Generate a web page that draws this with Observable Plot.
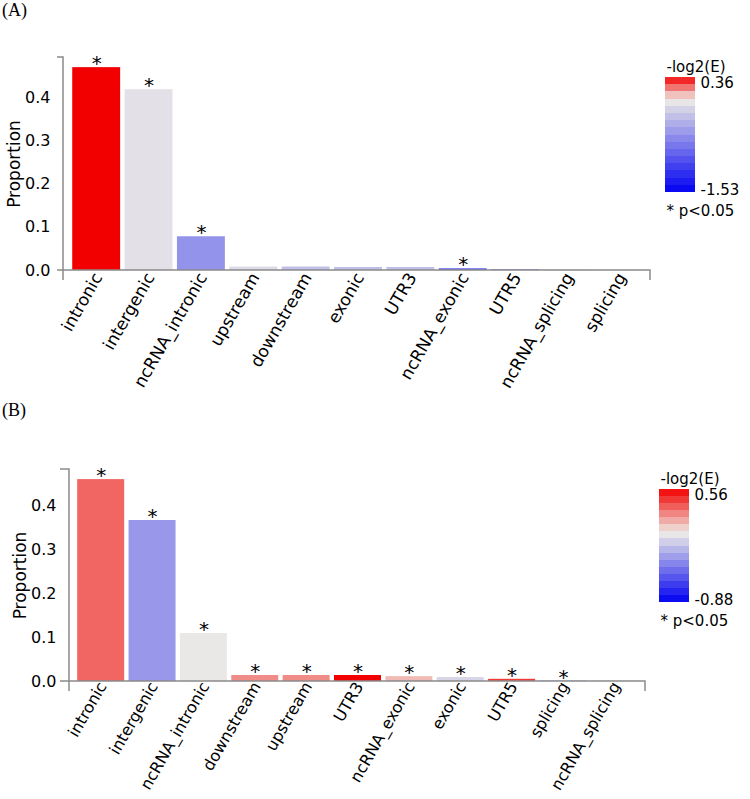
<!DOCTYPE html>
<html><head><meta charset="utf-8">
<script src="https://cdn.jsdelivr.net/npm/d3@7"></script>
<script src="https://cdn.jsdelivr.net/npm/@observablehq/plot@0.6"></script>
<style>
body{margin:0;background:#fff;}
#root{position:relative;width:750px;height:799px;overflow:hidden;font-family:"DejaVu Sans",sans-serif;background:#fff;}
.abs{position:absolute;}
.tag{position:absolute;font-family:"Liberation Serif",serif;font-size:18px;line-height:18px;color:#000;}
</style></head><body><div id="root"></div>
<script>
// ---------- Panel A data ----------
const categoriesA = ["intronic","intergenic","ncRNA_intronic","upstream","downstream","exonic","UTR3","ncRNA_exonic","UTR5","ncRNA_splicing","splicing"];
const proportionA = [0.469, 0.418, 0.078, 0.008, 0.008, 0.007, 0.007, 0.004, 0.001, 0.0003, 0.0002];
const negLog2EA   = [0.36, -0.08, -0.58, -0.12, -0.30, -0.30, -0.30, -0.95, -1.53, -1.20, -1.00];
const significantA = [true, true, true, false, false, false, false, true, false, false, false];

// ---------- Panel B data ----------
const categoriesB = ["intronic","intergenic","ncRNA_intronic","downstream","upstream","UTR3","ncRNA_exonic","exonic","UTR5","splicing","ncRNA_splicing"];
const proportionB = [0.459, 0.366, 0.109, 0.0136, 0.0136, 0.0136, 0.011, 0.009, 0.005, 0.0004, 0.0002];
const negLog2EB   = [0.32, -0.32, -0.02, 0.23, 0.23, 0.56, 0.12, -0.09, 0.42, -0.88, -0.50];
const significantB = [true, true, true, true, true, true, true, true, true, true, false];

const yTicks = [0, 0.1, 0.2, 0.3, 0.4];
const legendTitle = "-log2(E)";
const footnote = "* p<0.05";
const yLabel = "Proportion";

const AXIS = "#8a8a8a";
const BLUE = "#0000f2", MID = "#efede6", RED = "#f20000";
const interp = d3.piecewise(d3.interpolateRgb, [BLUE, MID, RED]);

function colorScale(vals) {
  return {type: "diverging", pivot: 0, symmetric: false, domain: [d3.min(vals), d3.max(vals)], interpolate: interp};
}

function spines(yMax, leftExt) {
  return (index, scales, values, dims) => {
    const g = d3.create("svg:g").attr("stroke", AXIS).attr("stroke-width", 1.5).attr("fill", "none");
    const x0 = dims.marginLeft, x1 = dims.width - dims.marginRight;
    const yTop = scales.y(yMax), yBase = scales.y(0);
    g.append("path").attr("d", `M${x0 - leftExt},${yTop}H${x0}V${yBase + 10}`);
    g.append("path").attr("d", `M${x0 - leftExt},${yBase}H${x1}V${yBase + 10}`);
    return g.node();
  };
}

function panel(cfg) {
  const data = cfg.categories.map((c, i) => ({category: c, proportion: cfg.proportion[i], e: cfg.neg[i], sig: cfg.sig[i]}));
  const yMax = d3.max(cfg.proportion) * 1.05;
  const chart = Plot.plot({
    width: 750, height: cfg.height,
    marginLeft: cfg.marginLeft, marginRight: cfg.marginRight, marginTop: cfg.marginTop, marginBottom: cfg.marginBottom,
    style: {fontFamily: "DejaVu Sans", fontSize: "16px", color: "#000", background: "transparent", overflow: "visible"},
    x: {domain: cfg.categories, paddingInner: 0.085, paddingOuter: 0.0425, round: false, insetLeft: cfg.insetLeft, insetRight: cfg.insetRight},
    y: {domain: [0, yMax]},
    color: colorScale(cfg.neg),
    marks: [
      Plot.barY(data, {x: "category", y: "proportion", fill: "e"}),
      Plot.text(data.filter(d => d.sig), {x: "category", y: "proportion", text: () => "*", lineAnchor: "middle", dy: -4, fontSize: 20}),
      spines(yMax, cfg.leftExt),
      Plot.axisX({tickSize: 0, tickRotate: -60, tickPadding: cfg.tickPad, dx: 1.5, textAnchor: "end", lineAnchor: "middle", fontSize: cfg.xFont, label: null}),
      Plot.axisY({ticks: yTicks, tickFormat: ".1f", tickSize: 0, tickPadding: 13, fontSize: 16, label: null}),
      Plot.axisY({ticks: [], tickSize: 0, fontSize: 17, label: yLabel, labelAnchor: "center", labelOffset: 56, labelArrow: "none"})
    ]
  });
  chart.classList.add("abs");
  chart.style.left = "0px";
  chart.style.top = cfg.top + "px";
  return chart;
}

function legend(cfg) {
  const lo = d3.min(cfg.neg), hi = d3.max(cfg.neg);
  const n = 16;
  const steps = d3.range(n).map(i => {
    const a = lo + (hi - lo) * i / n, b = lo + (hi - lo) * (i + 1) / n;
    return {a, b, m: (a + b) / 2};
  });
  const mt = 24, mb = 30;
  const chart = Plot.plot({
    width: 100, height: mt + cfg.barH + mb,
    marginLeft: 0, marginRight: 70, marginTop: mt, marginBottom: mb,
    style: {fontFamily: "DejaVu Sans", fontSize: "15px", color: "#000", background: "transparent", overflow: "visible"},
    x: {axis: null}, y: {domain: [lo, hi], axis: null},
    color: colorScale(cfg.neg),
    marks: [
      Plot.barY(steps, {y1: "a", y2: "b", fill: "m", shapeRendering: "crispEdges"}),
      Plot.text([legendTitle], {frameAnchor: "top-left", text: d => d, textAnchor: "start", lineAnchor: "middle", dy: -10, dx: 1, fontSize: 15}),
      Plot.text([hi], {y: d => d, frameAnchor: "right", text: d => String(d), textAnchor: "start", lineAnchor: "middle", dx: 5, dy: 6, fontSize: 15}),
      Plot.text([lo], {y: d => d, frameAnchor: "right", text: d => String(d), textAnchor: "start", lineAnchor: "middle", dx: 5, dy: -2, fontSize: 15}),
      Plot.text([footnote], {frameAnchor: "bottom-left", text: d => d, textAnchor: "start", lineAnchor: "middle", dy: 18.5, dx: 1, fontSize: 15})
    ]
  });
  chart.classList.add("abs");
  chart.style.left = cfg.left + "px";
  chart.style.top = (cfg.top - mt) + "px";
  return chart;
}

const root = document.getElementById("root");

root.appendChild(panel({categories: categoriesA, proportion: proportionA, neg: negLog2EA, sig: significantA,
  top: 0, height: 390, marginTop: 57, marginBottom: 120, marginLeft: 63, marginRight: 100, insetLeft: 7, insetRight: 4, leftExt: 6, xFont: 17, tickPad: 4}));
root.appendChild(panel({categories: categoriesB, proportion: proportionB, neg: negLog2EB, sig: significantB,
  top: 400, height: 399, marginTop: 69, marginBottom: 118, marginLeft: 69, marginRight: 105, insetLeft: 6, insetRight: 5, leftExt: 9, xFont: 16, tickPad: 2}));

root.appendChild(legend({neg: negLog2EA, left: 665, top: 77, barH: 115}));
root.appendChild(legend({neg: negLog2EB, left: 659, top: 489, barH: 113}));

const tA = document.createElement("div"); tA.className = "tag"; tA.textContent = "(A)"; tA.style.left = "2px"; tA.style.top = "1px"; root.appendChild(tA);
const tB = document.createElement("div"); tB.className = "tag"; tB.textContent = "(B)"; tB.style.left = "2px"; tB.style.top = "401px"; root.appendChild(tB);
</script>
</body></html>
